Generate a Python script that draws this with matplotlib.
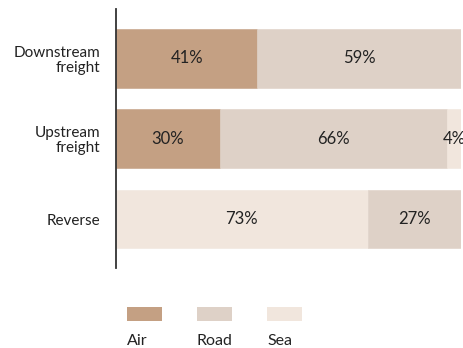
import matplotlib.pyplot as plt
from matplotlib.patches import Rectangle

categories = ["Downstream\nfreight", "Upstream\nfreight", "Reverse"]
modes = ["Air", "Road", "Sea"]
air = [41, 30, 0]
road = [59, 66, 27]
sea = [0, 4, 73]
# stacking order of the segments, left to right, for each row
order = [["Air", "Road", "Sea"], ["Air", "Road", "Sea"], ["Sea", "Road", "Air"]]

colors = {"Air": "#c4a083", "Road": "#ded1c7", "Sea": "#f1e6dd"}
values = {"Air": air, "Road": road, "Sea": sea}
text_color = "#222222"

plt.rcParams['font.family'] = ['Lato', 'DejaVu Sans']

fig = plt.figure(figsize=(4.63, 3.48), dpi=100)
ax = fig.add_axes([116 / 463, 1 - 268 / 348, 345 / 463, 259 / 348])

for i, row in enumerate(order):
    left = 0
    for m in row:
        v = values[m][i]
        if v == 0:
            continue
        ax.barh(i, v, left=left, height=0.73, color=colors[m],
                edgecolor=colors[m], linewidth=0.4)
        ax.text(left + v / 2, i, f"{v}%", ha="center", va="center",
                fontsize=12, color=text_color)
        left += v

ax.set_xlim(0, 100)
ax.set_ylim(2.61, -0.615)
ax.set_yticks(range(len(categories)))
ax.set_yticklabels(categories, fontsize=11, color=text_color, linespacing=1.1)
ax.tick_params(axis="y", length=0, pad=11.5)
ax.set_xticks([])
for s in ["top", "right", "bottom"]:
    ax.spines[s].set_visible(False)
ax.spines["left"].set_color("#333333")
ax.spines["left"].set_linewidth(1.3)
ax.spines["left"].set_zorder(5)

# legend: swatch with the name underneath
W, H = 463, 348
for k, m in enumerate(modes):
    x0 = 127 + 70 * k
    fig.add_artist(Rectangle((x0 / W, 1 - 321 / H), 35 / W, 14 / H,
                             transform=fig.transFigure, color=colors[m], lw=0))
    fig.text(x0 / W, 1 - 341 / H, m, ha="left", va="center",
             fontsize=11.5, color=text_color)

fig.savefig("out.png", dpi=100)
